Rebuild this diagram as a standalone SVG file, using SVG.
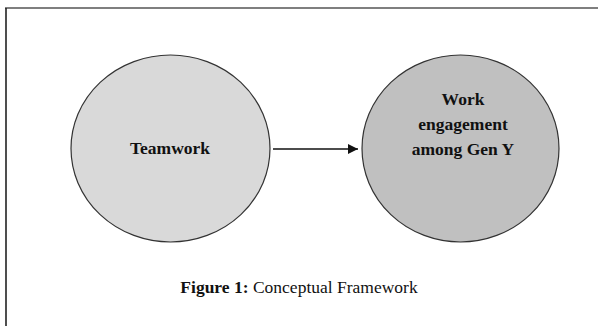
<svg xmlns="http://www.w3.org/2000/svg" width="598" height="326" viewBox="0 0 598 326">
<style>
.t{font-family:"Liberation Serif","Times New Roman",serif;font-size:17.5px;fill:#111;text-anchor:middle}
.b{font-weight:bold}
.node{stroke:#333;stroke-width:1.2}
</style>
<defs>
<marker id="ah" viewBox="0 0 10 10" refX="10" refY="5" markerWidth="10" markerHeight="10" markerUnits="userSpaceOnUse" orient="auto">
<path d="M0,0 L10,5 L0,10 z" fill="#111"/>
</marker>
</defs>
<rect width="598" height="326" fill="#fff"/>
<g id="frame">
<line x1="5" y1="8" x2="598" y2="8" stroke="#555" stroke-width="1.6"/>
<line x1="6" y1="8" x2="6" y2="326" stroke="#222" stroke-width="1.6"/>
</g>
<g id="teamwork">
<ellipse class="node" cx="170.5" cy="148.5" rx="99.5" ry="93.5" fill="#d9d9d9"/>
<text class="t b" x="170" y="154">Teamwork</text>
</g>
<g id="engagement">
<ellipse class="node" cx="460.5" cy="148.5" rx="98.5" ry="93.5" fill="#c0c0c0"/>
<text class="t b" x="463" y="105">Work</text>
<text class="t b" x="463" y="130">engagement</text>
<text class="t b" x="463" y="155">among Gen Y</text>
</g>
<g id="connectors">
<line x1="273" y1="149" x2="358" y2="149" stroke="#111" stroke-width="1.4" marker-end="url(#ah)"/>
</g>
<g id="caption">
<text class="t" x="299" y="293"><tspan class="b">Figure 1:</tspan> Conceptual Framework</text>
</g>
</svg>
